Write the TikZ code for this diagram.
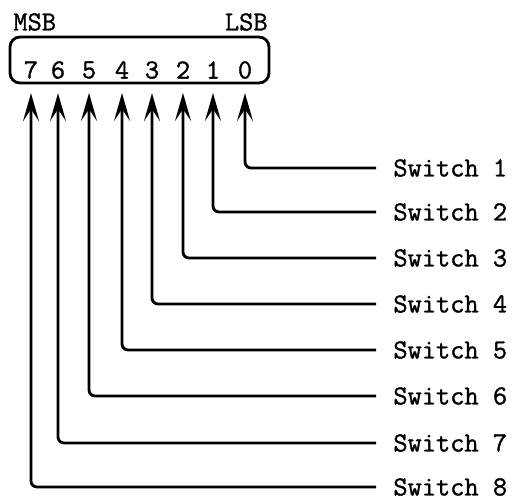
\documentclass[tikz,border=0pt]{standalone}
\usepackage{fontspec}
\usepackage{tikz}
\usetikzlibrary{arrows.meta}
\newfontfamily\panelfont[FakeBold=1.2]{Latin Modern Mono}
\tikzset{
  bit/.style={
    font=\fontsize{13.8}{16}\selectfont\panelfont,
    inner xsep=0pt,
    inner ysep=6.5pt
  },
  endlabel/.style={
    font=\fontsize{13.8}{16}\selectfont\panelfont,
    inner sep=0pt
  },
  switchlabel/.style={
    font=\fontsize{13.8}{16}\selectfont\panelfont,
    anchor=west,
    inner xsep=8pt,
    inner ysep=0pt
  },
  bitline/.style={
    -{Stealth[length=14pt,width=8pt,inset=6pt]},
    rounded corners=3pt
  }
}

\begin{document}
\begin{tikzpicture}[line width=1.4pt, x=0.5pt, y=-0.5pt]
  \useasboundingbox (0,0) rectangle (512,503);

  \node[endlabel, anchor=west] (msb) at (12,22) {MSB};
  \node[endlabel, anchor=east] (lsb) at (269,22) {LSB};
  \draw[rounded corners=5pt] (10,37) rectangle (269,83);

  \node[bit] (b7) at (31,70) {7};
  \node[bit] (b6) at (58,70) {6};
  \node[bit] (b5) at (89,70) {5};
  \node[bit] (b4) at (122,70) {4};
  \node[bit] (b3) at (152,70) {3};
  \node[bit] (b2) at (183,70) {2};
  \node[bit] (b1) at (213,70) {1};
  \node[bit] (b0) at (245,70) {0};

  \node[switchlabel] (s1) at (376,168) {Switch 1};
  \node[switchlabel] (s2) at (376,212) {Switch 2};
  \node[switchlabel] (s3) at (376,258) {Switch 3};
  \node[switchlabel] (s4) at (376,304) {Switch 4};
  \node[switchlabel] (s5) at (376,350) {Switch 5};
  \node[switchlabel] (s6) at (376,396) {Switch 6};
  \node[switchlabel] (s7) at (376,443) {Switch 7};
  \node[switchlabel] (s8) at (376,487) {Switch 8};

  \draw[bitline] (s1.west) -| (b0);
  \draw[bitline] (s2.west) -| (b1);
  \draw[bitline] (s3.west) -| (b2);
  \draw[bitline] (s4.west) -| (b3);
  \draw[bitline] (s5.west) -| (b4);
  \draw[bitline] (s6.west) -| (b5);
  \draw[bitline] (s7.west) -| (b6);
  \draw[bitline] (s8.west) -| (b7);
\end{tikzpicture}
\end{document}
